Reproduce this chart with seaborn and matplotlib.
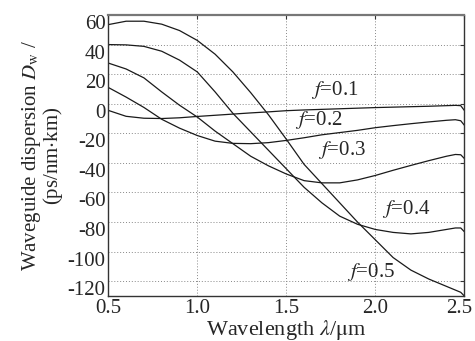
import numpy as np
import pandas as pd
import matplotlib
matplotlib.use("Agg")
import matplotlib.pyplot as plt
import matplotlib.transforms as mtransforms
import seaborn as sns

# data (wavelength in um, dispersion in ps/nm/km)
wavelength = [0.5, 0.6, 0.7, 0.8, 0.9, 1.0, 1.1, 1.2, 1.3, 1.4, 1.5, 1.6, 1.7,
              1.8, 1.9, 2.0, 2.1, 2.2, 2.3, 2.4, 2.45, 2.48, 2.5]
f01 = [-4.5, -8.5, -9.8, -10.0, -9.5, -8.6, -7.8, -7.0, -6.2, -5.5, -4.7, -4.2, -3.8,
       -3.4, -3.0, -2.6, -2.3, -2.0, -1.7, -1.3, -1.1, -1.3, -4.5]
f02 = [11.0, 4.5, -2.5, -10.5, -16.5, -21.5, -25.3, -26.8, -27.0, -26.3, -24.8, -23.0, -21.0,
       -19.5, -18.0, -16.2, -14.8, -13.5, -12.3, -11.2, -10.8, -11.5, -14.5]
f03 = [27.5, 23.5, 17.5, 8.0, -1.0, -9.0, -18.5, -27.0, -35.5, -42.0, -47.5, -52.0, -53.5,
       -53.5, -51.5, -48.5, -45.0, -41.7, -38.5, -35.5, -34.3, -34.5, -37.0]
f04 = [40.0, 39.8, 38.8, 35.5, 29.5, 21.5, 8.0, -6.5, -19.0, -31.5, -44.0, -56.5, -67.0,
       -76.0, -81.5, -85.0, -87.0, -88.0, -87.0, -85.0, -84.0, -84.0, -86.5]
f05 = [53.5, 55.8, 55.8, 53.8, 49.5, 42.8, 33.5, 21.5, 7.5, -7.5, -24.0, -41.0, -54.0,
       -67.0, -80.0, -92.0, -104.0, -112.5, -118.5, -123.5, -126.0, -127.5, -130.0]
series_names = ["0.1", "0.2", "0.3", "0.4", "0.5"]
label_x = [1.64, 1.55, 1.68, 2.04, 1.84]
label_y = [9.0, -11.3, -31.6, -71.5, -114.0]

df = pd.DataFrame({"wavelength": wavelength * 5,
                   "D": f01 + f02 + f03 + f04 + f05,
                   "f": sum([[n] * len(wavelength) for n in series_names], [])})

sns.set_style("white")
plt.rcParams["font.family"] = ["Liberation Serif", "DejaVu Serif"]
plt.rcParams["mathtext.fontset"] = "stix"
plt.rcParams["axes.unicode_minus"] = False

fig = plt.figure(figsize=(4.75, 3.41), dpi=100)
ax = fig.add_axes([108.3 / 475, 1 - 296 / 341, (464.3 - 108.3) / 475, (296 - 15) / 341])

sns.lineplot(data=df, x="wavelength", y="D", hue="f", units="f", estimator=None,
             palette=["#1a1a1a"] * 5, linewidth=0.9, legend=False, ax=ax, sort=False)

for name, lx, ly in zip(series_names, label_x, label_y):
    ax.text(lx, ly, r"$f$=" + name, fontsize=15, va="center", ha="left")

ax.set_xlim(0.5, 2.5)
ax.set_ylim(-130, 60)
ax.set_xticks([0.5, 1.0, 1.5, 2.0, 2.5])
ax.set_xticklabels(["0.5", "1.0", "1.5", "2.0", "2.5"])
ax.set_yticks(np.arange(-120, 61, 20))
ax.grid(True, linestyle=(0, (1, 2)), color="#888888", linewidth=0.7)
ax.tick_params(direction="in", length=3, width=0.8, labelsize=15, pad=2,
               top=True, right=True, color="#333333")
for side in ax.spines:
    ax.spines[side].set_color("#333333")
    ax.spines[side].set_linewidth(1.0)
ax.spines["top"].set_color("#777777")
ax.spines["top"].set_linewidth(1.6)

# the tick labels sit a little below their grid lines in the original
offset = mtransforms.ScaledTranslation(0, -0.07, fig.dpi_scale_trans)
for lab in ax.get_yticklabels():
    lab.set_transform(lab.get_transform() + offset)
# keep the last x label inside the picture
last = ax.get_xticklabels()[-1]
last.set_transform(last.get_transform() + mtransforms.ScaledTranslation(-0.05, 0, fig.dpi_scale_trans))

ax.set_xlabel(r"Wavelength $\lambda$/$\mathrm{\mu}$m", fontsize=16, labelpad=0)
ax.set_ylabel("Waveguide dispersion $D_{\\rm w}$ /\n(ps/nm$\\cdot$km)", fontsize=15,
              labelpad=2, linespacing=0.85)

fig.savefig("out.png", dpi=100)
